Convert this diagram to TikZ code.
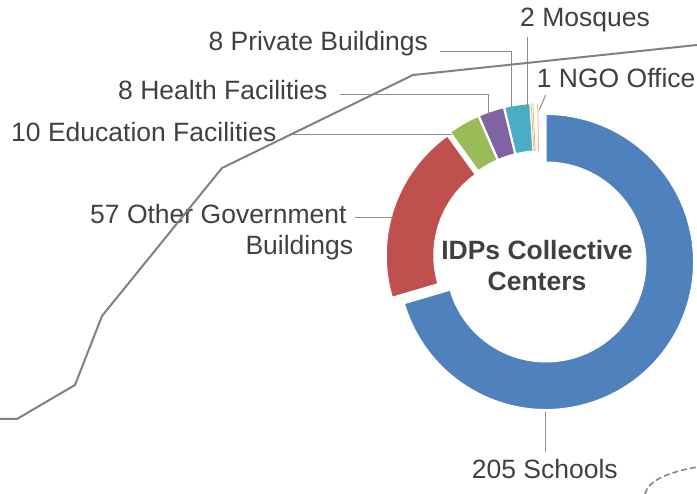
\documentclass[tikz,border=0pt]{standalone}
\usepackage{fontspec}
\setmainfont{Liberation Sans}
\usetikzlibrary{calc}
\definecolor{sBlue}{HTML}{4F81BD}
\definecolor{sRed}{HTML}{C0504D}
\definecolor{sGreen}{HTML}{9BBB59}
\definecolor{sPurple}{HTML}{8064A2}
\definecolor{sCyan}{HTML}{4BACC6}
\definecolor{sOrange}{HTML}{F5B27A}
\definecolor{txt}{HTML}{404040}
\definecolor{ldr}{HTML}{8C8C8C}
\definecolor{poly}{HTML}{808080}
% color, start angle, end angle, mid angle
\newcommand\dslice[4]{%
  \filldraw[fill=#1,draw=white,line width=1pt] ($(C0)+(#4:7)+(#2:147.5)$) arc[start angle=#2,end angle=#3,radius=147.5] -- ($(C0)+(#4:7)+(#3:100)$) arc[start angle=#3,end angle=#2,radius=100] -- cycle;}
\begin{document}
\begin{tikzpicture}[x=1pt,y=1pt,
  lbl/.style={inner sep=0pt,text=txt,font=\fontsize{26.5}{31}\selectfont},
  leader/.style={draw=ldr,line width=1pt},
  tinyedge/.style={draw=sOrange,line width=0.8pt}]
\useasboundingbox (0,0) rectangle (697,494);
\coordinate (C0) at (540.4,236.2);

% donut slices
\dslice{sBlue}{196.392}{450}{323.2}
\dslice{sRed}{125.876}{196.392}{161.13}
\dslice{sGreen}{113.505}{125.876}{119.69}
\dslice{sPurple}{103.608}{113.505}{108.56}
\dslice{sCyan}{93.711}{103.608}{98.66}
\draw[tinyedge] ($(C0)+(92.5:7)+(93.5:100)$) -- ($(C0)+(92.5:7)+(93.5:147.5)$);
\draw[tinyedge] ($(C0)+(92.5:7)+(92.8:100)$) -- ($(C0)+(92.5:7)+(92.8:147.5)$);
\draw[tinyedge] ($(C0)+(90.6:7)+(91.0:100)$) -- ($(C0)+(90.6:7)+(91.0:147.5)$);

% centre text
\node[lbl,font=\fontsize{26.5}{31}\selectfont\bfseries,align=center] (ctr) at (537,228) {IDPs Collective\\Centers};

% labels
\node[lbl,anchor=base west] (lPriv) at (208.3,443) {8 Private Buildings};
\node[lbl,anchor=base west] (lHealth) at (118,394.7) {8 Health Facilities};
\node[lbl,anchor=base west] (lEdu) at (11,352.3) {10 Education Facilities};
\node[lbl,anchor=base west] (lGov) at (90,270.7) {57 Other Government};
\node[lbl,anchor=base east] (lGov2) at (353.3,239) {Buildings};
\node[lbl,anchor=base west] (lMosq) at (520,467) {2 Mosques};
\node[lbl,anchor=base west] (lNGO) at (536.7,406) {1 NGO Office};
\node[lbl,anchor=base west] (lSch) at (471.7,15) {205 Schools};

% leader lines
\coordinate (pA) at (440,442.3); \coordinate (pB) at (511,442.3); \coordinate (pC) at (511,385.7);
\draw[leader] (pA) -- (pB) -- (pC);
\coordinate (hA) at (340,399.7); \coordinate (hB) at (488.3,399.7); \coordinate (hC) at (488.3,379);
\draw[leader] (hA) -- (hB) -- (hC);
\coordinate (eA) at (290,359); \coordinate (eB) at (451.7,359);
\draw[leader] (eA) -- (eB);
\coordinate (gA) at (355,276.5); \coordinate (gB) at (395,276.5);
\draw[leader] (gA) -- (gB);
\coordinate (mA) at (527.7,457.3); \coordinate (mB) at (527.7,385.7);
\draw[leader] (mA) -- (mB);
\coordinate (nA) at (545.7,399); \coordinate (nB) at (539.3,384);
\draw[leader] (nA) -- (nB);
\coordinate (sA) at (545.7,82.3); \coordinate (sB) at (545.7,41.7);
\draw[leader] (sA) -- (sB);

% background polyline
\coordinate (q0) at (0,75); \coordinate (q1) at (17,75); \coordinate (q2) at (75,109);
\coordinate (q3) at (102,178); \coordinate (q4) at (222,326); \coordinate (q5) at (413,419);
\coordinate (q6) at (697,449);
\draw[poly,line width=2pt,line join=round] (q0) -- (q1) -- (q2) -- (q3) -- (q4) -- (q5) -- (q6);

% dashed curve bottom right
\coordinate (d0) at (645,0); \coordinate (d1) at (697,27);
\draw[poly,line width=1.5pt,dash pattern=on 6pt off 3pt] (d0) .. controls (648,14) and (670,22) .. (d1);
\end{tikzpicture}
\end{document}
